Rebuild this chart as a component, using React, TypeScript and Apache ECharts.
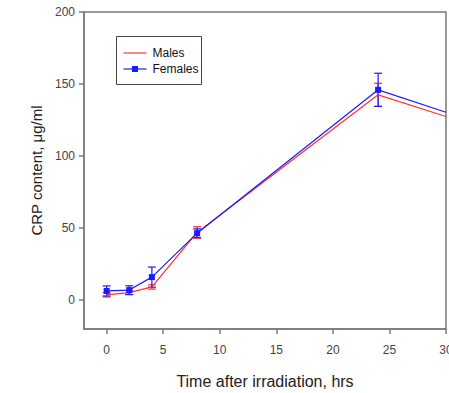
import React, { useEffect, useRef } from "react";
import * as echarts from "echarts";

const hours = [0, 2, 4, 8, 24, 30];
const malesMean = [3.7, 5.3, 9.2, 47, 142.5, 127.5];
const malesErr = [1.5, 1.5, 1.5, 4, 8, 0];
const femalesMean = [6.4, 7, 16, 46.5, 146, 130.4];
const femalesErr = [3.5, 3, 7, 3, 11.5, 0];
const xTicks = [0, 5, 10, 15, 20, 25, 30];
const yTicks = [0, 50, 100, 150, 200];
const legendNames = ["Males", "Females"];

const RED = "#ff3030";
const BLUE = "#1a1aff";
const FONT = "Liberation Sans, Arial, sans-serif";

function errorSeries(name: string, mean: number[], err: number[], color: string) {
  const data = hours
    .map((h, i) => [h, mean[i] - err[i], mean[i] + err[i]])
    .filter((d, i) => err[i] > 0);
  return {
    type: "custom",
    name: name + "-err",
    silent: true,
    z: 3,
    data,
    renderItem: (params: any, api: any) => {
      const x = api.value(0);
      const lo = api.coord([x, api.value(1)]);
      const hi = api.coord([x, api.value(2)]);
      const w = 4;
      const style = { stroke: color, lineWidth: 1.2 };
      return {
        type: "group",
        children: [
          { type: "line", shape: { x1: lo[0], y1: lo[1], x2: hi[0], y2: hi[1] }, style },
          { type: "line", shape: { x1: lo[0] - w, y1: lo[1], x2: lo[0] + w, y2: lo[1] }, style },
          { type: "line", shape: { x1: hi[0] - w, y1: hi[1], x2: hi[0] + w, y2: hi[1] }, style },
        ],
      };
    },
  };
}

export default function App() {
  const ref = useRef<HTMLDivElement>(null);
  useEffect(() => {
    if (!ref.current) return;
    const chart = echarts.init(ref.current, null, { renderer: "svg" });
    const axisLineStyle = { color: "#7a7a7a", width: 1.5 };
    const lx = 116;
    const ly = 36;
    chart.setOption({
      animation: false,
      backgroundColor: "#ffffff",
      textStyle: { fontFamily: FONT },
      grid: {
        left: 84,
        right: 3,
        top: 12,
        bottom: 64,
        show: true,
        borderColor: "#7a7a7a",
        borderWidth: 1.5,
        containLabel: false,
        outerBoundsMode: "none",
      },
      graphic: [
        {
          type: "group",
          left: lx,
          top: ly,
          z: 100,
          children: [
            { type: "rect", shape: { x: 0, y: 0, width: 85, height: 48 }, style: { fill: "#fff", stroke: "#444", lineWidth: 1 } },
            { type: "line", shape: { x1: 7, y1: 16.5, x2: 30, y2: 16.5 }, style: { stroke: RED, lineWidth: 1.2 } },
            { type: "text", x: 36, y: 16.5, style: { text: legendNames[0], fontSize: 12, fill: "#111", fontFamily: FONT, verticalAlign: "middle" } },
            { type: "line", shape: { x1: 7, y1: 32.5, x2: 30, y2: 32.5 }, style: { stroke: BLUE, lineWidth: 1.2 } },
            { type: "rect", shape: { x: 15.5, y: 29.5, width: 6, height: 6 }, style: { fill: BLUE } },
            { type: "text", x: 36, y: 32.5, style: { text: legendNames[1], fontSize: 12, fill: "#111", fontFamily: FONT, verticalAlign: "middle" } },
          ],
        },
      ],
      xAxis: {
        type: "value",
        min: -2,
        max: 30,
        name: "Time after irradiation, hrs",
        nameLocation: "middle",
        nameGap: 44,
        nameTextStyle: { fontSize: 16, color: "#222" },
        axisLine: { show: true, onZero: false, lineStyle: axisLineStyle },
        splitLine: { show: false },
        axisTick: { show: true, customValues: xTicks, length: 5, lineStyle: axisLineStyle },
        axisLabel: { customValues: xTicks, margin: 15, fontSize: 12, color: "#444" },
      },
      yAxis: {
        type: "value",
        min: -20,
        max: 200,
        name: "CRP content, \u03bcg/ml",
        nameLocation: "middle",
        nameGap: 35,
        nameTextStyle: { fontSize: 15, color: "#222" },
        axisLine: { show: true, onZero: false, lineStyle: axisLineStyle },
        splitLine: { show: false },
        axisTick: { show: true, customValues: yTicks, length: 5, lineStyle: axisLineStyle },
        axisLabel: { customValues: yTicks, margin: 9, fontSize: 12, color: "#444" },
      },
      series: [
        errorSeries("Males", malesMean, malesErr, RED),
        errorSeries("Females", femalesMean, femalesErr, BLUE),
        {
          type: "line",
          name: "Males",
          z: 4,
          symbol: "none",
          lineStyle: { color: RED, width: 1.2 },
          itemStyle: { color: RED },
          data: hours.map((h, i) => [h, malesMean[i]]),
        },
        {
          type: "line",
          name: "Females",
          z: 5,
          symbol: "rect",
          symbolSize: 6,
          lineStyle: { color: BLUE, width: 1.2 },
          itemStyle: { color: BLUE },
          data: hours.map((h, i) =>
            i === hours.length - 1
              ? { value: [h, femalesMean[i]], symbol: "none" }
              : [h, femalesMean[i]]
          ),
        },
      ],
    });
    return () => chart.dispose();
  }, []);
  return (
    <div
      ref={ref}
      style={{ position: "fixed", left: 0, top: 0, width: 449, height: 393 }}
    />
  );
}
